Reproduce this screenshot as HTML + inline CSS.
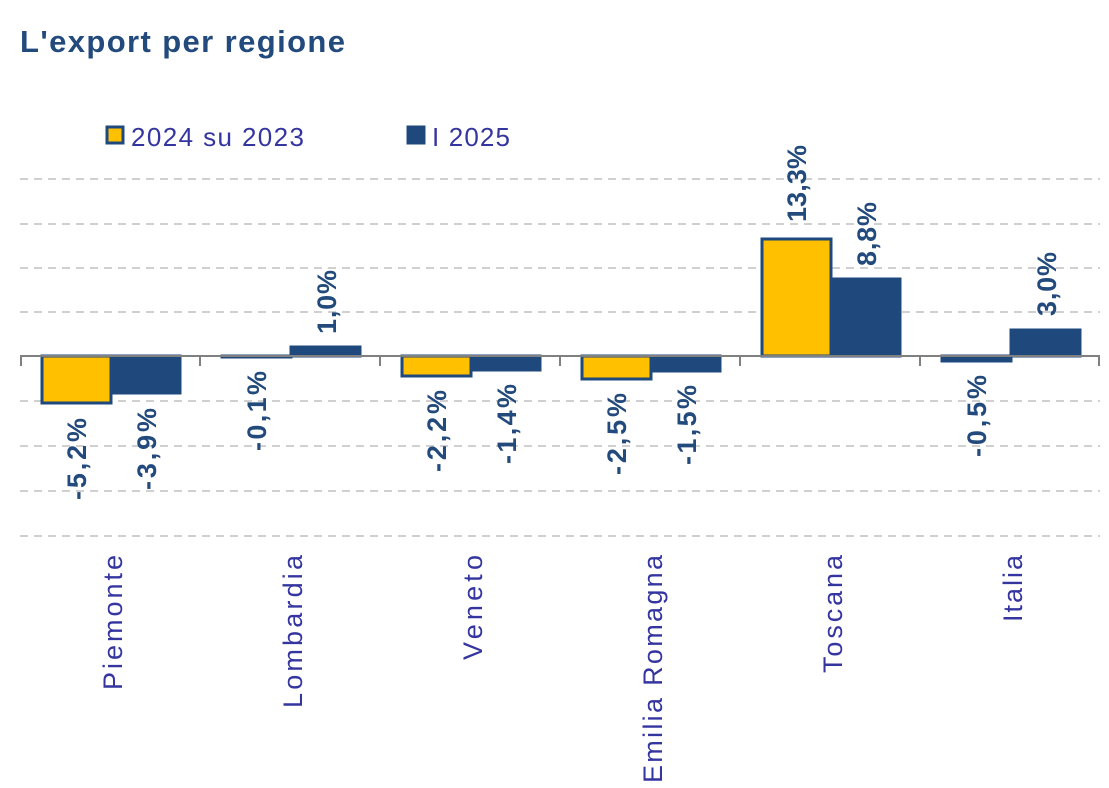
<!DOCTYPE html>
<html><head><meta charset="utf-8"><style>
html,body{margin:0;padding:0;background:#fff;}
svg{display:block;font-family:"Liberation Sans",sans-serif;}
</style></head><body>
<svg width="1109" height="788" viewBox="0 0 1109 788" xmlns="http://www.w3.org/2000/svg">
<text x="20" y="52" font-size="31" font-weight="bold" fill="#234a7c" textLength="325">L'export per regione</text>
<rect x="107" y="127" width="16" height="16" fill="#ffc000" stroke="#1f497d" stroke-width="3"/>
<text x="131" y="146" font-size="26" fill="#3535a0" textLength="173">2024 su 2023</text>
<rect x="408" y="127" width="16" height="16" fill="#1f497d" stroke="#1f497d" stroke-width="3"/>
<text x="432" y="146" font-size="26" fill="#3535a0" textLength="78">I 2025</text>
<g stroke="#d0d0d0" stroke-width="2" stroke-dasharray="8,6">
<line x1="20" x2="1100" y1="179" y2="179"/><line x1="20" x2="1100" y1="224" y2="224"/>
<line x1="20" x2="1100" y1="268" y2="268"/><line x1="20" x2="1100" y1="312" y2="312"/>
<line x1="20" x2="1100" y1="401" y2="401"/><line x1="20" x2="1100" y1="446" y2="446"/>
<line x1="20" x2="1100" y1="491" y2="491"/><line x1="20" x2="1100" y1="536" y2="536"/>
</g>
<g stroke="#1f497d" stroke-width="3">
<rect x="42" y="356" width="69" height="47" fill="#ffc000"/>
<rect x="111" y="356" width="69" height="37" fill="#1f497d"/>
<rect x="222" y="356" width="69" height="1" fill="#1f497d"/>
<rect x="291" y="347" width="69" height="9" fill="#1f497d"/>
<rect x="402" y="356" width="69" height="20" fill="#ffc000"/>
<rect x="471" y="356" width="69" height="14" fill="#1f497d"/>
<rect x="582" y="356" width="69" height="23" fill="#ffc000"/>
<rect x="651" y="356" width="69" height="15" fill="#1f497d"/>
<rect x="762" y="239" width="69" height="117" fill="#ffc000"/>
<rect x="831" y="279" width="69" height="77" fill="#1f497d"/>
<rect x="942" y="356" width="69" height="5" fill="#1f497d"/>
<rect x="1011" y="330" width="69" height="26" fill="#1f497d"/>
</g>
<g stroke="#808080" stroke-width="2">
<line x1="20" x2="1100" y1="356" y2="356"/>
<line x1="21" x2="21" y1="356" y2="366"/><line x1="200" x2="200" y1="356" y2="366"/>
<line x1="380" x2="380" y1="356" y2="366"/><line x1="560" x2="560" y1="356" y2="366"/>
<line x1="740" x2="740" y1="356" y2="366"/><line x1="920" x2="920" y1="356" y2="366"/>
<line x1="1099" x2="1099" y1="356" y2="366"/>
</g>
<g font-size="27" font-weight="bold" fill="#234a7c">
<text transform="translate(86,418) rotate(-90)" text-anchor="end" textLength="82">-5,2%</text>
<text transform="translate(156,408) rotate(-90)" text-anchor="end" textLength="82">-3,9%</text>
<text transform="translate(266,371) rotate(-90)" text-anchor="end" textLength="80">-0,1%</text>
<text transform="translate(336,334) rotate(-90)" text-anchor="start" textLength="64">1,0%</text>
<text transform="translate(446,390) rotate(-90)" text-anchor="end" textLength="82">-2,2%</text>
<text transform="translate(516,384) rotate(-90)" text-anchor="end" textLength="80">-1,4%</text>
<text transform="translate(626,393) rotate(-90)" text-anchor="end" textLength="82">-2,5%</text>
<text transform="translate(696,385) rotate(-90)" text-anchor="end" textLength="80">-1,5%</text>
<text transform="translate(806,222) rotate(-90)" text-anchor="start" textLength="77">13,3%</text>
<text transform="translate(876,266) rotate(-90)" text-anchor="start" textLength="64">8,8%</text>
<text transform="translate(986,375) rotate(-90)" text-anchor="end" textLength="82">-0,5%</text>
<text transform="translate(1056,316) rotate(-90)" text-anchor="start" textLength="64">3,0%</text>
</g>
<g font-size="27" fill="#3535a0">
<text transform="translate(122,555) rotate(-90)" text-anchor="end" textLength="135">Piemonte</text>
<text transform="translate(302,555) rotate(-90)" text-anchor="end" textLength="153">Lombardia</text>
<text transform="translate(482,555) rotate(-90)" text-anchor="end" textLength="105">Veneto</text>
<text transform="translate(662,555) rotate(-90)" text-anchor="end" textLength="228">Emilia Romagna</text>
<text transform="translate(842,555) rotate(-90)" text-anchor="end" textLength="118">Toscana</text>
<text transform="translate(1022,555) rotate(-90)" text-anchor="end" textLength="67">Italia</text>
</g>
</svg>
</body></html>
